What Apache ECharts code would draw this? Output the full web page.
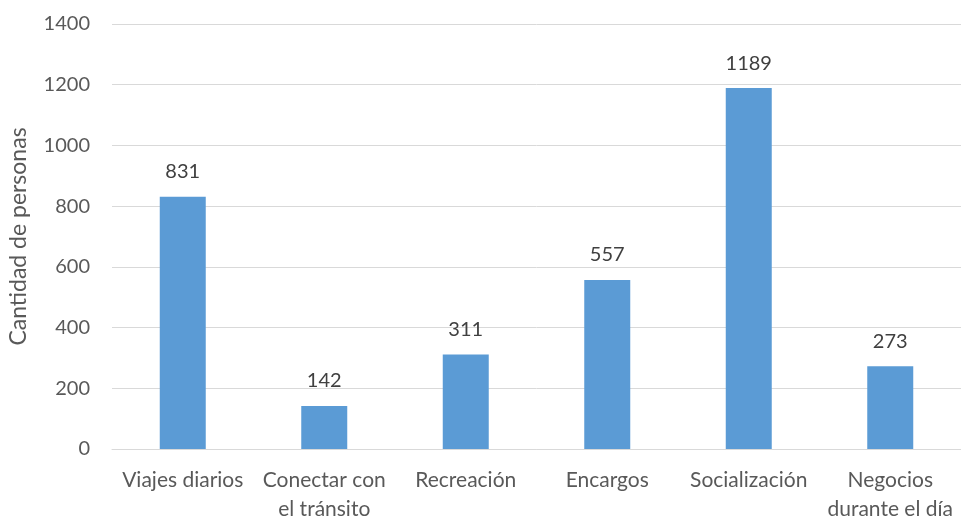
<!DOCTYPE html>
<html>
<head>
<meta charset="utf-8">
<script src="https://cdn.jsdelivr.net/npm/echarts@6/dist/echarts.min.js"></script>
<style>html,body{margin:0;padding:0;background:#fff}#c{width:961px;height:518px}</style>
</head>
<body>
<div id="c"></div>
<script>
var categories = ["Viajes diarios", "Conectar con\nel tránsito", "Recreación", "Encargos", "Socialización", "Negocios\ndurante el día"];
var values = [831, 142, 311, 557, 1189, 273];
var yTicks = [0, 200, 400, 600, 800, 1000, 1200, 1400];

var chart = echarts.init(document.getElementById('c'));
chart.setOption({
  animation: false,
  textStyle: {fontFamily: 'Lato'},
  grid: {left: 112, right: 0, top: 24, bottom: 69, outerBoundsMode: 'none', containLabel: false},
  xAxis: {
    type: 'category',
    data: categories,
    axisTick: {show: false},
    axisLine: {lineStyle: {color: '#d9d9d9'}},
    axisLabel: {color: '#595959', fontSize: 21, fontFamily: 'Lato', margin: 17, lineHeight: 29, interval: 0}
  },
  yAxis: {
    type: 'value',
    min: yTicks[0],
    max: yTicks[yTicks.length - 1],
    interval: 200,
    name: 'Cantidad de personas',
    nameLocation: 'middle',
    nameGap: 82,
    nameTextStyle: {color: '#595959', fontSize: 23, fontFamily: 'Lato'},
    axisLine: {show: false},
    axisTick: {show: false},
    axisLabel: {color: '#595959', fontSize: 20, fontFamily: 'Lato', margin: 22, formatter: function (v) { return String(v); }},
    splitLine: {lineStyle: {color: '#d9d9d9'}}
  },
  series: [{
    type: 'bar',
    data: values,
    barWidth: 46,
    itemStyle: {color: '#5b9bd5'},
    label: {show: true, position: 'top', distance: 15, color: '#404040', fontSize: 20, fontFamily: 'Lato'}
  }]
});
</script>
</body>
</html>
